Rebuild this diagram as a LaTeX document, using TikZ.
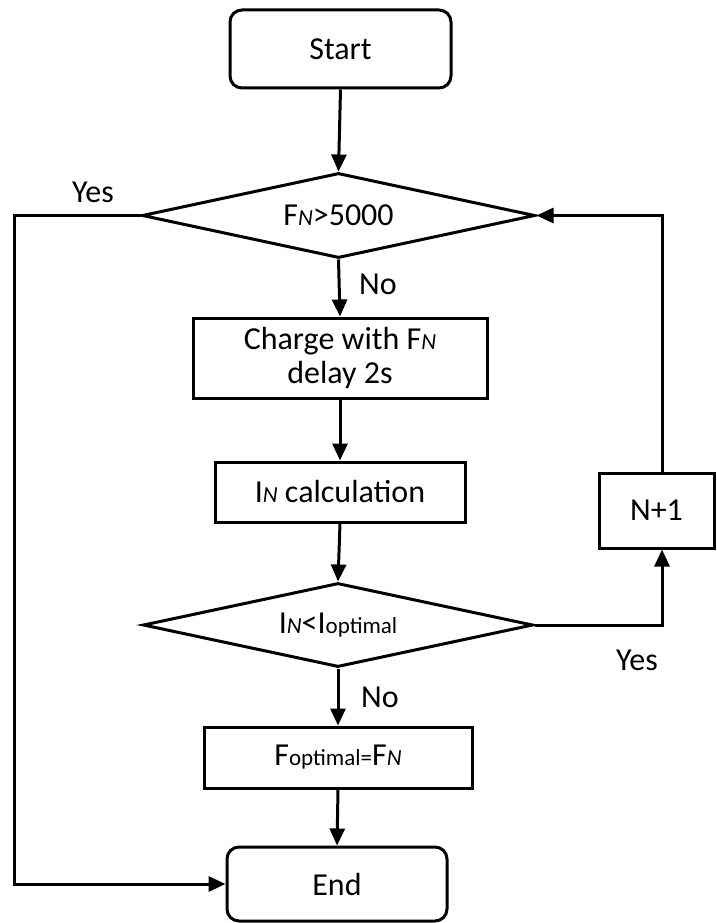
\documentclass[tikz,border=0pt]{standalone}
\usepackage{fontspec}
\setmainfont{Carlito}
\usetikzlibrary{shapes.geometric,arrows.meta}
\newcommand{\sN}{{\fontsize{23}{23}\selectfont\itshape N}}
\newcommand{\sopt}{{\fontsize{23}{23}\selectfont optimal}}
\begin{document}
\begin{tikzpicture}[x=1pt,y=-1pt,
  base/.style={draw, line width=3pt, inner sep=0pt, font=\fontsize{32}{34}\selectfont},
  term/.style={base, rounded corners=12pt},
  proc/.style={base},
  dec/.style={base, diamond, shape aspect=4.6},
  lbl/.style={font=\fontsize{32}{34}\selectfont, inner sep=0pt},
  arr/.style={-{Triangle[length=17pt,width=15pt]}, line width=3pt}]
\useasboundingbox (0,0) rectangle (716,923);

\node[term, minimum width=221pt, minimum height=78pt] (start) at (340.5,49) {Start};
\node[dec, minimum width=393pt, minimum height=85pt] (d1) at (338.5,215.5) {F\sN>5000};
\node[proc, minimum width=294pt, minimum height=80pt, align=center] (charge) at (340,358) {Charge with F\sN\\delay 2s};
\node[proc, minimum width=250pt, minimum height=60pt] (calc) at (340,492) {I\sN{} calculation};
\node[dec, minimum width=390pt, minimum height=84pt] (d2) at (338,625) {I\sN<I\sopt};
\node[proc, minimum width=115pt, minimum height=75pt] (np) at (656.5,510.5) {N+1};
\node[proc, minimum width=268pt, minimum height=61pt] (fopt) at (338,757.5) {F{\fontsize{23}{23}\selectfont optimal=}F\sN};
\node[term, minimum width=220pt, minimum height=74pt] (end) at (337,884) {End};

\node[lbl] (yes1) at (93,192) {Yes};
\node[lbl] (no1) at (378,284) {No};
\node[lbl] (yes2) at (637,660) {Yes};
\node[lbl] (no2) at (380,697) {No};

\coordinate (L) at (14,0);
\coordinate (R) at (662,0);

\draw[arr] (start.south) -- (d1.north);
\draw[arr] (d1.south) -- (charge.north);
\draw[arr] (charge.south) -- (calc.north);
\draw[arr] (calc.south) -- (d2.north);
\draw[arr] (d2.south) -- (fopt.north);
\draw[arr] (fopt.south) -- (end.north);
\draw[arr] (d1.west) -- (d1.west -| L) |- (end.west);
\draw[arr] (d2.east) -| (np.south -| R);
\draw[arr] (np.north -| R) |- (d1.east);
\end{tikzpicture}
\end{document}
